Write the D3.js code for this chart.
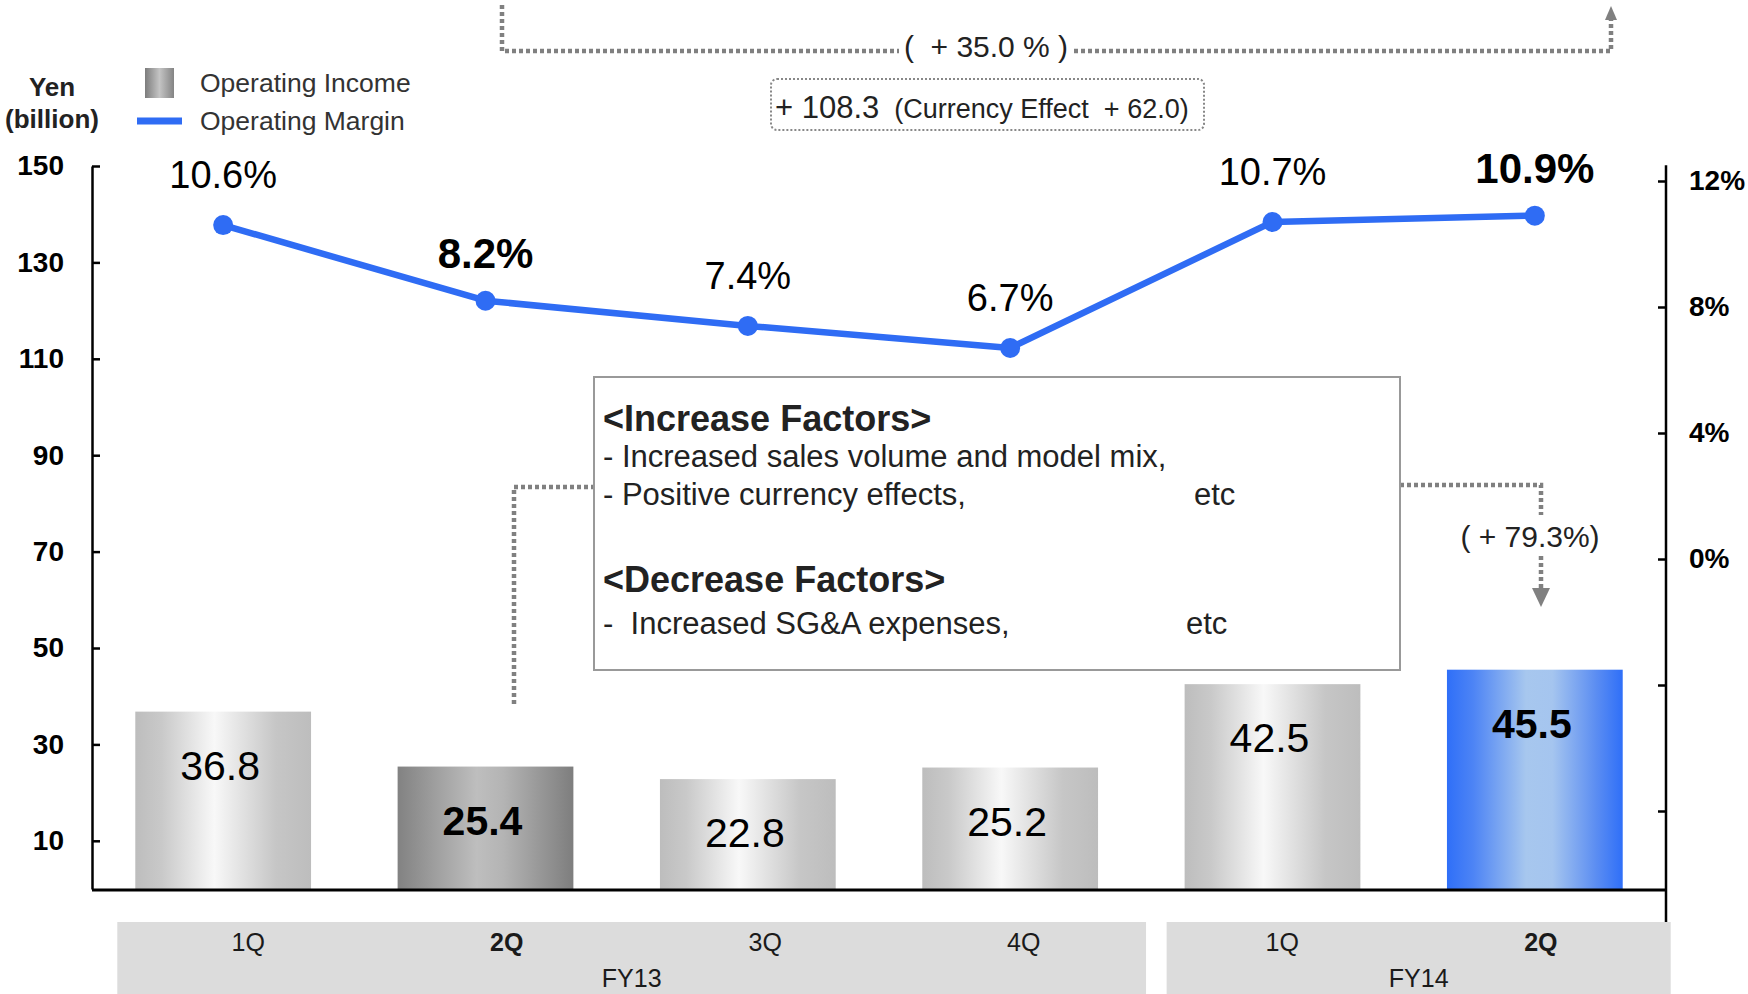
<!DOCTYPE html>
<html>
<head>
<meta charset="utf-8">
<script src="https://cdn.jsdelivr.net/npm/d3@7"></script>
<style>
  body { margin: 0; background: #fff; }
  svg { display: block; }
  text { font-family: "Liberation Sans", Arial, Helvetica, sans-serif; white-space: pre; }
</style>
</head>
<body>
<svg id="chart" width="1748" height="994"></svg>
<script>
// data
var periods = ["FY13-1Q", "FY13-2Q", "FY13-3Q", "FY13-4Q", "FY14-1Q", "FY14-2Q"];
var quarterNames = ["1Q", "2Q", "3Q", "4Q", "1Q", "2Q"];
var fiscalYears = ["FY13", "FY14"];
var fiscalYearOf = ["FY13", "FY13", "FY13", "FY13", "FY14", "FY14"];
var operatingIncome = [36.8, 25.4, 22.8, 25.2, 42.5, 45.5];
var operatingMargin = [10.6, 8.2, 7.4, 6.7, 10.7, 10.9];
var incomeTicks = [10, 30, 50, 70, 90, 110, 130, 150];
var marginTicks = [-8, -4, 0, 4, 8, 12];
var boldPeriods = ["FY13-2Q", "FY14-2Q"];
var currentPeriod = "FY14-2Q";
var priorPeriod = "FY13-2Q";

var legendItems = ["Operating Income", "Operating Margin"];
var unitLines = ["Yen", "(billion)"];
var yearChangeText = "(  + 35.0 % )";
var diffMain = "+ 108.3";
var diffSub = "  (Currency Effect  + 62.0)";
var qoqText = "( + 79.3%)";
var factorLines = [
  {t: "<Increase Factors>", bold: true},
  {t: "- Increased sales volume and model mix,", bold: false},
  {t: "- Positive currency effects,", bold: false, etc: true},
  {t: "<Decrease Factors>", bold: true},
  {t: "-  Increased SG&A expenses,", bold: false, etc: true}
];

var svg = d3.select("#chart");
var defs = svg.append("defs");

function addGradient(id, stops) {
  var g = defs.append("linearGradient").attr("id", id)
    .attr("x1", 0).attr("x2", 1).attr("y1", 0).attr("y2", 0);
  stops.forEach(function(s) {
    g.append("stop").attr("offset", s[0]).attr("stop-color", s[1]);
  });
}
addGradient("gGray", [[0, "#bdbdbd"], [0.15, "#c9c9c9"], [0.45, "#f8f8f8"], [0.8, "#c6c6c6"], [1, "#bdbdbd"]]);
addGradient("gDark", [[0, "#828282"], [0.45, "#bebebe"], [0.6, "#b4b4b4"], [1, "#7e7e7e"]]);
addGradient("gBlue", [[0, "#2f6ff8"], [0.15, "#4d84f5"], [0.45, "#a7c7ee"], [0.6, "#a5c5ef"], [0.85, "#5b8df2"], [1, "#2f6ff8"]]);
addGradient("gLegend", [[0, "#7c7c7c"], [0.5, "#c4c4c4"], [1, "#848484"]]);

var x = d3.scaleBand().domain(periods).range([92, 1666]).paddingInner(0.33).paddingOuter(0.165);
var yL = d3.scaleLinear().domain([0, 150]).range([889, 166]);
var yR = d3.scaleLinear().domain([0, 12]).range([559, 181]);
var bw = x.bandwidth();

function fillFor(p) {
  if (p === currentPeriod) return "url(#gBlue)";
  if (p === priorPeriod) return "url(#gDark)";
  return "url(#gGray)";
}
function isBold(p) { return boldPeriods.indexOf(p) >= 0; }

// category table under the axis
var bandX0 = {}, bandX1 = {};
fiscalYears.forEach(function(fy) {
  var ps = periods.filter(function(p, i) { return fiscalYearOf[i] === fy; });
  bandX0[fy] = x(ps[0]) - 18;
  bandX1[fy] = x(ps[ps.length - 1]) + bw + 48;
});
svg.selectAll("rect.fyband").data(fiscalYears).enter().append("rect")
  .attr("class", "fyband")
  .attr("x", function(d) { return bandX0[d]; })
  .attr("y", 922)
  .attr("width", function(d) { return bandX1[d] - bandX0[d]; })
  .attr("height", 80)
  .attr("fill", "#dcdcdc");

var xq = d3.scalePoint().domain(periods)
  .range([x(periods[0]) + bw / 2 + 25, x(periods[5]) + bw / 2 + 6]);
svg.selectAll("text.qlabel").data(periods).enter().append("text")
  .attr("class", "qlabel")
  .attr("x", function(d) { return xq(d); })
  .attr("y", 951)
  .attr("text-anchor", "middle")
  .attr("font-size", 25)
  .attr("font-weight", function(d) { return isBold(d) ? "bold" : "normal"; })
  .attr("fill", "#1a1a1a")
  .text(function(d, i) { return quarterNames[i]; });

svg.selectAll("text.fylabel").data(fiscalYears).enter().append("text")
  .attr("class", "fylabel")
  .attr("x", function(d) { return (bandX0[d] + bandX1[d]) / 2; })
  .attr("y", 987)
  .attr("text-anchor", "middle")
  .attr("font-size", 25)
  .attr("fill", "#1a1a1a")
  .text(function(d) { return d; });

// bars
svg.selectAll("rect.bar").data(periods).enter().append("rect")
  .attr("class", "bar")
  .attr("x", function(d) { return x(d); })
  .attr("y", function(d, i) { return yL(operatingIncome[i]); })
  .attr("width", bw)
  .attr("height", function(d, i) { return yL(0) - yL(operatingIncome[i]); })
  .attr("fill", function(d) { return fillFor(d); });

svg.selectAll("text.barlabel").data(periods).enter().append("text")
  .attr("class", "barlabel")
  .attr("x", function(d) { return x(d) + bw / 2 - 3; })
  .attr("y", function(d, i) { return yL(operatingIncome[i]) + 68; })
  .attr("text-anchor", "middle")
  .attr("font-size", 41)
  .attr("font-weight", function(d) { return isBold(d) ? "bold" : "normal"; })
  .attr("fill", "#000")
  .text(function(d, i) { return operatingIncome[i].toFixed(1); });

// axes
var gL = svg.append("g").attr("transform", "translate(92,0)")
  .call(d3.axisLeft(yL).tickValues(incomeTicks).tickSizeInner(-8).tickSizeOuter(0).tickPadding(28));
gL.select(".domain").attr("stroke", "#000").attr("stroke-width", 2.5);
gL.selectAll(".tick line").attr("stroke", "#000").attr("stroke-width", 2.5);
gL.selectAll(".tick text").attr("font-size", 28).attr("font-weight", "bold").attr("fill", "#000")
  .attr("font-family", "'Liberation Sans', Arial, sans-serif");

var gR = svg.append("g").attr("transform", "translate(1666,0)")
  .call(d3.axisRight(yR).tickValues(marginTicks).tickSizeInner(-8).tickSizeOuter(0).tickPadding(23)
    .tickFormat(function(d) { return d >= 0 ? d + "%" : ""; }));
gR.select(".domain").remove();
gR.append("line").attr("x1", 0).attr("x2", 0).attr("y1", yR(12.5)).attr("y2", 922)
  .attr("stroke", "#000").attr("stroke-width", 2.5);
gR.selectAll(".tick line").attr("stroke", "#000").attr("stroke-width", 2.5);
gR.selectAll(".tick text").attr("font-size", 28).attr("font-weight", "bold").attr("fill", "#000")
  .attr("font-family", "'Liberation Sans', Arial, sans-serif");

svg.append("line").attr("x1", 92).attr("x2", 1666).attr("y1", yL(0) + 1).attr("y2", yL(0) + 1)
  .attr("stroke", "#000").attr("stroke-width", 3);

// annotation connectors (dotted)
var dotted = {stroke: "#808080", width: 4.5, dash: "4,3"};
function dots(path) {
  svg.append("path").attr("d", path).attr("fill", "none")
    .attr("stroke", dotted.stroke).attr("stroke-width", dotted.width).attr("stroke-dasharray", dotted.dash);
}
dots("M502,5V51H899");
dots("M1074,51H1611V20");
svg.append("path").attr("d", "M1605,20L1617,20L1611,6Z").attr("fill", "#808080");
svg.append("text").attr("x", 986).attr("y", 57).attr("text-anchor", "middle")
  .attr("font-size", 30).attr("fill", "#222").text(yearChangeText);

svg.append("rect").attr("x", 771).attr("y", 79).attr("width", 433).attr("height", 51).attr("rx", 6)
  .attr("fill", "none").attr("stroke", "#888").attr("stroke-width", 2).attr("stroke-dasharray", "2,2");
var diffT = svg.append("text").attr("x", 775).attr("y", 118).attr("fill", "#222");
diffT.append("tspan").attr("font-size", 31).text(diffMain);
diffT.append("tspan").attr("font-size", 27).text(diffSub);

dots("M514,704V487H594");
dots("M1400,485H1541V515");
dots("M1541,556V590");
svg.append("path").attr("d", "M1532,588L1550,588L1541,607Z").attr("fill", "#808080");
svg.append("text").attr("x", 1530).attr("y", 547).attr("text-anchor", "middle")
  .attr("font-size", 30).attr("fill", "#222").text(qoqText);

// factors box
svg.append("rect").attr("x", 594).attr("y", 377).attr("width", 806).attr("height", 293)
  .attr("fill", "#fff").attr("stroke", "#999").attr("stroke-width", 2);
var factorY = [431, 467, 505, 592, 634];
svg.selectAll("text.factor").data(factorLines).enter().append("text")
  .attr("class", "factor")
  .attr("x", 603)
  .attr("y", function(d, i) { return factorY[i]; })
  .attr("font-size", function(d) { return d.bold ? 36 : 31; })
  .attr("font-weight", function(d) { return d.bold ? "bold" : "normal"; })
  .attr("fill", "#222")
  .text(function(d) { return d.t; });
var etcX = {2: 1194, 4: 1186};
factorLines.forEach(function(d, i) {
  if (d.etc) {
    svg.append("text").attr("x", etcX[i]).attr("y", factorY[i]).attr("font-size", 31)
      .attr("fill", "#222").text("etc");
  }
});

// margin line
var line = d3.line()
  .x(function(d) { return x(d) + bw / 2; })
  .y(function(d, i) { return yR(operatingMargin[i]); });
svg.append("path").datum(periods).attr("d", line)
  .attr("fill", "none").attr("stroke", "#2f6cf4").attr("stroke-width", 6.5).attr("stroke-linejoin", "round");
svg.selectAll("circle.pt").data(periods).enter().append("circle")
  .attr("class", "pt")
  .attr("cx", function(d) { return x(d) + bw / 2; })
  .attr("cy", function(d, i) { return yR(operatingMargin[i]); })
  .attr("r", 10)
  .attr("fill", "#2f6cf4");
svg.selectAll("text.mlabel").data(periods).enter().append("text")
  .attr("class", "mlabel")
  .attr("x", function(d) { return x(d) + bw / 2; })
  .attr("y", function(d, i) { return yR(operatingMargin[i]) - (isBold(d) ? 33 : 37); })
  .attr("text-anchor", "middle")
  .attr("font-size", function(d) { return isBold(d) ? 42 : 38; })
  .attr("font-weight", function(d) { return isBold(d) ? "bold" : "normal"; })
  .attr("fill", "#000")
  .text(function(d, i) { return operatingMargin[i].toFixed(1) + "%"; });

// unit label and legend
svg.selectAll("text.unit").data(unitLines).enter().append("text")
  .attr("class", "unit")
  .attr("x", 52)
  .attr("y", function(d, i) { return 96 + i * 32; })
  .attr("text-anchor", "middle")
  .attr("font-size", 26)
  .attr("font-weight", "bold")
  .attr("fill", "#222")
  .text(function(d) { return d; });

svg.append("rect").attr("x", 145).attr("y", 68).attr("width", 29).attr("height", 30).attr("fill", "url(#gLegend)");
svg.append("line").attr("x1", 137).attr("x2", 182).attr("y1", 121).attr("y2", 121)
  .attr("stroke", "#2f6cf4").attr("stroke-width", 7);
svg.selectAll("text.legend").data(legendItems).enter().append("text")
  .attr("class", "legend")
  .attr("x", 200)
  .attr("y", function(d, i) { return 92 + i * 38; })
  .attr("font-size", 26.5)
  .attr("fill", "#333")
  .text(function(d) { return d; });
</script>
</body>
</html>
